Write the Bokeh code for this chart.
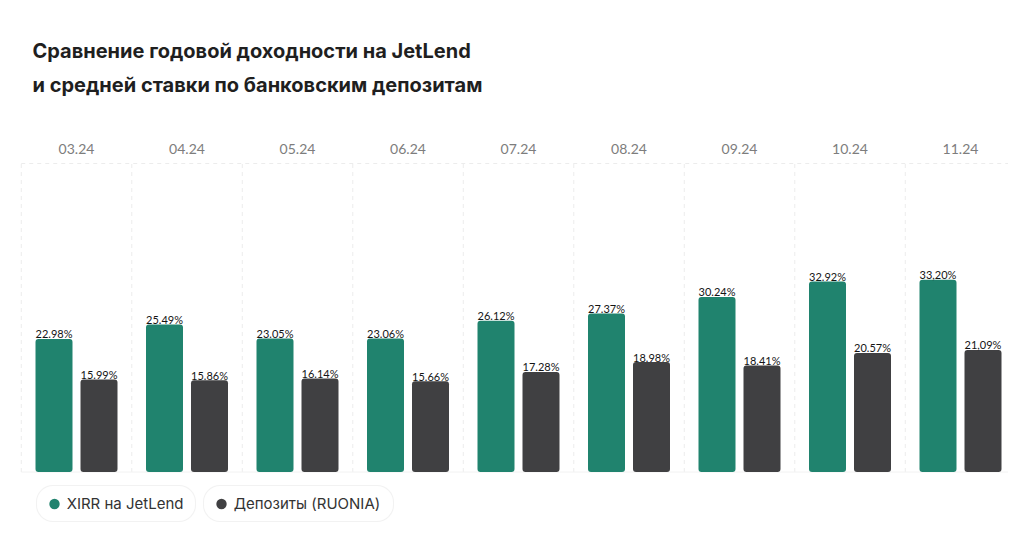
from bokeh.plotting import figure
from bokeh.models import ColumnDataSource, Range1d, Label, Legend, LegendItem
from bokeh.core.properties import value
from bokeh.embed import file_html
from bokeh.resources import INLINE

# ---------------- data ----------------
months = ["03.24", "04.24", "05.24", "06.24", "07.24", "08.24", "09.24", "10.24", "11.24"]
xirr = [22.98, 25.49, 23.05, 23.06, 26.12, 27.37, 30.24, 32.92, 33.20]
ruonia = [15.99, 15.86, 16.14, 15.66, 17.28, 18.98, 18.41, 20.57, 21.09]
xirr_labels = ["22.98%", "25.49%", "23.05%", "23.06%", "26.12%", "27.37%", "30.24%", "32.92%", "33,20%"]
ruonia_labels = ["15.99%", "15.86%", "16.14%", "15.66%", "17.28%", "18.98%", "18.41%", "20.57%", "21,09%"]
series_names = ["XIRR на JetLend", "Депозиты (RUONIA)"]
title_lines = ["Сравнение годовой доходности на JetLend",
               "и средней ставки по банковским депозитам"]

# ---------------- layout ----------------
W, H = 1008, 538
GROUP_PX = 110.5      # px per group
X0_PX = 76.0          # frame x of first group centre
PX_PER_PCT = 5.79
BASE_PX = 471.5       # frame y (from top) of zero line

GREEN = "#20836E"
DARK = "#404042"

x_range = Range1d(-X0_PX / GROUP_PX, (W - X0_PX) / GROUP_PX)
y_range = Range1d(-(H - BASE_PX) / PX_PER_PCT, BASE_PX / PX_PER_PCT)

p = figure(width=W, height=H, x_range=x_range, y_range=y_range,
           x_axis_type=None, y_axis_type=None, toolbar_location=None,
           output_backend="svg", min_border=0, outline_line_color=None,
           background_fill_color="white", border_fill_color="white")

n = len(months)
idx = list(range(n))
OFF = 22.5 / GROUP_PX
BW = 37.0 / GROUP_PX
Y_TOP = (BASE_PX - 163.0) / PX_PER_PCT
Y_MONTH = (BASE_PX - 148.7) / PX_PER_PCT

# faint dashed guides
bounds = [i - 0.5 for i in range(n + 1)]
p.segment(x0=bounds, y0=[0] * len(bounds), x1=bounds, y1=[Y_TOP] * len(bounds),
          line_color="#ececec", line_width=1, line_dash="4 4")
p.segment(x0=[-0.5], y0=[Y_TOP], x1=[n - 0.5], y1=[Y_TOP],
          line_color="#ececec", line_width=1, line_dash="4 4")
p.segment(x0=[-0.5], y0=[0], x1=[n - 0.5], y1=[0],
          line_color="#f2f2f2", line_width=1)

src = ColumnDataSource(dict(
    xg=[i - OFF for i in idx], xd=[i + OFF for i in idx],
    xirr=xirr, ruonia=ruonia, lg=xirr_labels, ld=ruonia_labels,
))

rg = p.vbar(x="xg", top="xirr", bottom=0, width=BW, source=src,
            fill_color=GREEN, line_color=None)
rd = p.vbar(x="xd", top="ruonia", bottom=0, width=BW, source=src,
            fill_color=DARK, line_color=None)
for r in (rg, rd):
    try:
        r.glyph.border_radius = 3
    except Exception:
        pass

lab_kw = dict(text_font=value("Lato"), text_font_size="11px", text_color="#141414",
              text_align="center", text_baseline="alphabetic", y_offset=-5)
p.text(x="xg", y="xirr", text="lg", source=src, **lab_kw)
p.text(x="xd", y="ruonia", text="ld", source=src, **lab_kw)

p.text(x=idx, y=[Y_MONTH] * n, text=months, text_font=value("Lato"),
       text_font_size="14px", text_color="#7d7d7d", text_align="center",
       text_baseline="middle")

# title
for k, yb in enumerate((50.5, 84.5)):
    p.add_layout(Label(x=32, y=H - yb, x_units="screen", y_units="screen",
                       text=title_lines[k], text_font="Inter", text_font_style="bold",
                       text_font_size="20px", text_color="#1f1f1f",
                       text_baseline="alphabetic"))

# legend pills (dots are legend glyphs of hidden marker renderers)
dg = p.scatter(x="xg", y="xirr", source=src, marker="circle", size=11,
               fill_color=GREEN, line_color=None, visible=False)
dd = p.scatter(x="xd", y="ruonia", source=src, marker="circle", size=11,
               fill_color=DARK, line_color=None, visible=False)

def make_legend(name, rend, loc, lw):
    leg = Legend(items=[LegendItem(label=name, renderers=[rend])], location=loc,
                 orientation="horizontal", padding=4, spacing=0, margin=0,
                 glyph_height=27, glyph_width=26, label_standoff=0,
                 label_width=lw, label_height=27,
                 border_line_color="#e6e6e6", border_line_width=1,
                 background_fill_color="white", background_fill_alpha=1,
                 label_text_font="Inter", label_text_font_size="15px",
                 label_text_color="#333333")
    try:
        leg.border_radius = 17
    except Exception:
        pass
    return leg

p.add_layout(make_legend(series_names[0], dg, (35.7, H - 522.3), 124))
p.add_layout(make_legend(series_names[1], dd, (202.7, H - 522.3), 155))

open("out.html", "w").write(file_html(p, INLINE))
